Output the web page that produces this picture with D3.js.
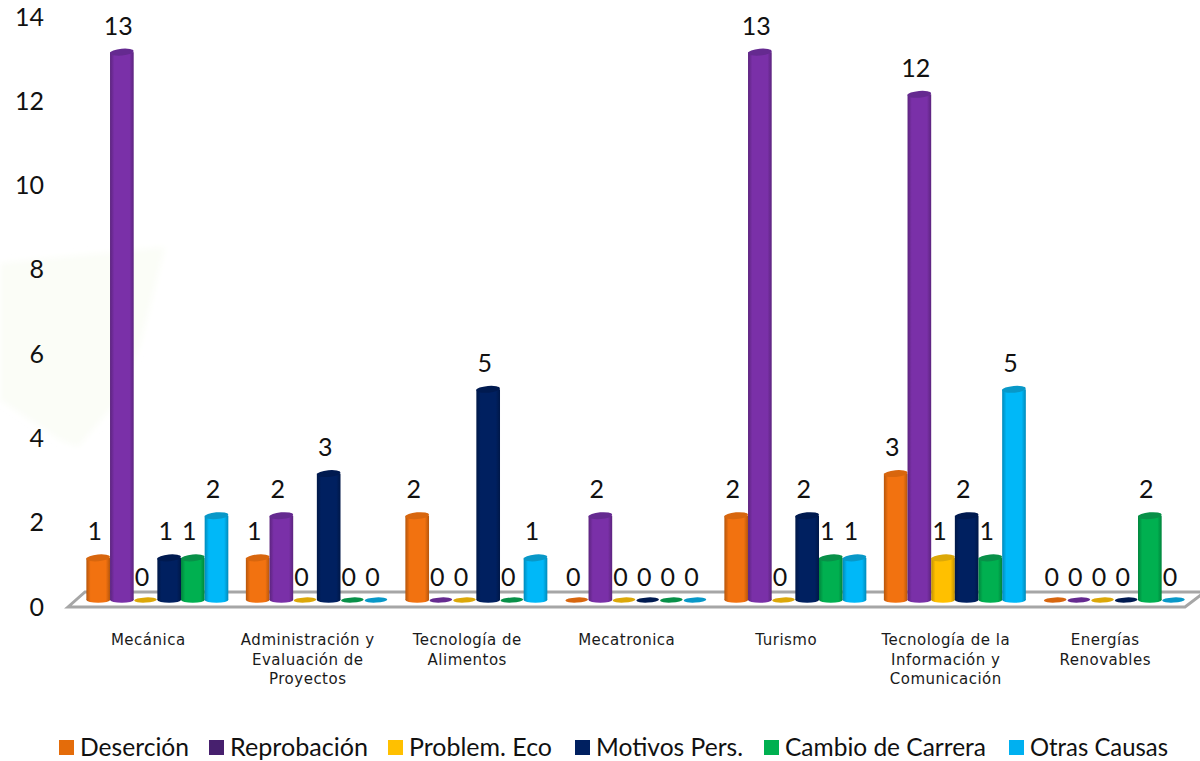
<!DOCTYPE html>
<html><head><meta charset="utf-8">
<script src="https://cdn.jsdelivr.net/npm/d3@7"></script>
<style>html,body{margin:0;padding:0;background:#fff}svg{display:block}</style>
</head><body><svg id="c" width="1200" height="761"></svg>
<script>
const categories = [["Mecánica"],["Administración y","Evaluación de","Proyectos"],["Tecnología de","Alimentos"],["Mecatronica"],["Turismo"],["Tecnología de la","Información y","Comunicación"],["Energías","Renovables"]];
const seriesNames = ["Deserción","Reprobación","Problem. Eco","Motivos Pers.","Cambio de Carrera","Otras Causas"];
const desercion = [1,1,2,0,2,3,0];
const reprobacion = [13,2,0,2,13,12,0];
const problemEco = [0,0,0,0,0,1,0];
const motivosPers = [1,3,5,0,2,2,0];
const cambioCarrera = [1,0,0,0,1,1,2];
const otrasCausas = [2,0,1,0,1,5,0];
const yTicks = [0,2,4,6,8,10,12,14];
const seriesValues = [desercion,reprobacion,problemEco,motivosPers,cambioCarrera,otrasCausas];
const colors = ["#f27210","#7a30a8","#ffc000","#002060","#00b050","#00b8f8"];
const topColors = ["#d8660e","#652a90","#dca808","#001a50","#089048","#0898c8"];
const legendColors = ["#e46c0a","#47206e","#ffc000","#002060","#00b050","#00b0f0"];
const legendX = [59,209,388,575,764,1009];
const legendTextW = [109,138,143,147,201,138];

const svg = d3.select("#c");
const y = d3.scaleLinear().domain([0,14]).range([600,10]);
const yLabels = d3.scaleLinear().domain([0,14]).range([607,17]);
const names = categories.map(c=>c.join(" "));
const x0 = d3.scaleBand().domain(names).range([77.5,1194]).paddingInner(0.11).paddingOuter(0.055);
const x1 = d3.scaleBand().domain(d3.range(6)).range([0,x0.bandwidth()]);

const defs = svg.append("defs");
colors.forEach((c,i)=>{
  const g = defs.append("linearGradient").attr("id","g"+i);
  const dark = d3.color(c).darker(0.8);
  [[0,dark],[0.18,c],[0.5,c],[0.82,c],[1,dark]].forEach(s=>g.append("stop").attr("offset",s[0]).attr("stop-color",s[1]));
});
const blur = defs.append("filter").attr("id","soft").attr("x","-15%").attr("y","-15%").attr("width","130%").attr("height","130%");
blur.append("feGaussianBlur").attr("stdDeviation",3);

svg.append("path").attr("d","M0,263L165,247L140,345L118,400L78,447L60,440L0,400Z").attr("fill","#fbfdf7").attr("filter","url(#soft)");

svg.append("path").attr("d","M68,607L85,592L1202,592L1202,594L1185,607Z")
  .attr("fill","#fff").attr("stroke","#a6a6a6").attr("stroke-width",3);

const axis = d3.axisLeft(yLabels).tickValues(yTicks).tickSize(0).tickPadding(0);
const ag = svg.append("g").attr("transform","translate(44,0)").call(axis);
ag.select(".domain").remove();
ag.selectAll("text").attr("font-family","Lato, sans-serif").attr("font-size",25).attr("fill","#111").attr("dy","0.32em");

const rx = x1.bandwidth()/2;
const groups = svg.selectAll("g.cat").data(names).join("g").attr("class","cat")
  .attr("transform",d=>`translate(${x0(d)},0)`);
groups.each(function(name,ci){
  const g = d3.select(this);
  seriesValues.forEach((vals,si)=>{
    const v = vals[ci], cx = x1(si)+rx+0.1;
    if(v===0){
      g.append("ellipse").attr("cx",cx).attr("cy",y(0)).attr("rx",rx-0.5).attr("ry",2.6).attr("fill",topColors[si])
        .attr("transform",`rotate(-3 ${cx} ${y(0)})`);
    } else {
      g.append("rect").attr("x",cx-rx).attr("width",rx*2).attr("y",y(v)).attr("height",y(0)-y(v)).attr("fill",`url(#g${si})`);
      g.append("ellipse").attr("cx",cx).attr("cy",y(0)).attr("rx",rx).attr("ry",2.8).attr("fill",`url(#g${si})`);
      g.append("ellipse").attr("cx",cx).attr("cy",y(v)).attr("rx",rx).attr("ry",3.4).attr("fill",topColors[si])
        .attr("transform",`rotate(-5 ${cx} ${y(v)})`);
    }
    g.append("text").attr("x",cx-3.5).attr("y",y(v)-(v===0?14:17.5)).attr("text-anchor","middle")
      .attr("font-family","Lato, sans-serif").attr("font-size",25).attr("fill","#111").text(v);
  });
});

groups.append("text").attr("font-family","'DejaVu Sans', sans-serif").attr("font-size",15).attr("letter-spacing",0.5).attr("fill","#1a1a1a")
  .attr("text-anchor","middle")
  .each(function(name,i){
    d3.select(this).selectAll("tspan").data(categories[i]).join("tspan")
      .attr("x",x0.bandwidth()/2-9).attr("y",(d,j)=>645+j*19.5).text(d=>d);
  });

const lg = svg.selectAll("g.leg").data(seriesNames).join("g").attr("class","leg")
  .attr("transform",(d,i)=>`translate(${legendX[i]},0)`);
lg.append("rect").attr("y",740).attr("width",15).attr("height",15).attr("fill",(d,i)=>legendColors[i]);
lg.append("text").attr("x",21).attr("y",756).attr("font-family","Lato, sans-serif").attr("font-size",25.5).attr("fill","#111")
  .attr("textLength",(d,i)=>legendTextW[i]).attr("lengthAdjust","spacingAndGlyphs").text(d=>d);
</script></body></html>
